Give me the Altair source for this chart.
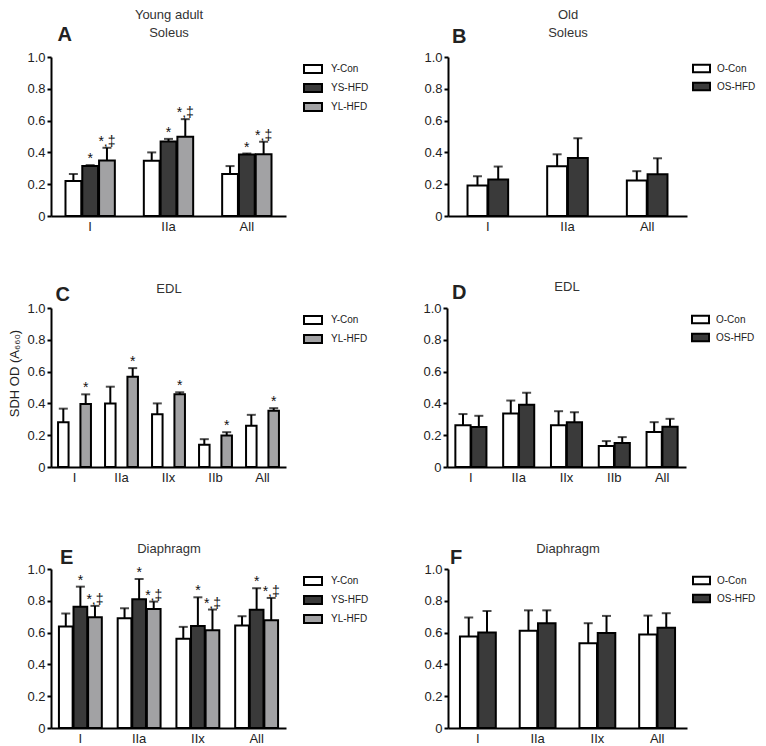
import altair as alt
import pandas as pd

FONT = "Liberation Sans"

# ---------------- data (mean and SD) ----------------
# Panel A  - Young adult, Soleus
A_types = ["I", "IIa", "All"]
A_ycon_mean = [0.220, 0.347, 0.264]
A_ycon_sd = [0.044, 0.053, 0.050]
A_yshfd_mean = [0.314, 0.469, 0.387]
A_yshfd_sd = [0.006, 0.016, 0.006]
A_ylhfd_mean = [0.349, 0.498, 0.389]
A_ylhfd_sd = [0.080, 0.111, 0.078]
A_yshfd_sig = ["*", "*", "*"]
A_ylhfd_sig = ["*,‡", "*,‡", "*,‡"]

# Panel B  - Old, Soleus
B_types = ["I", "IIa", "All"]
B_ocon_mean = [0.192, 0.313, 0.223]
B_ocon_sd = [0.058, 0.075, 0.059]
B_oshfd_mean = [0.230, 0.365, 0.263]
B_oshfd_sd = [0.081, 0.124, 0.100]

# Panel C  - Young adult, EDL
C_types = ["I", "IIa", "IIx", "IIb", "All"]
C_ycon_mean = [0.282, 0.400, 0.332, 0.140, 0.259]
C_ycon_sd = [0.085, 0.105, 0.068, 0.035, 0.069]
C_ylhfd_mean = [0.397, 0.568, 0.457, 0.198, 0.353]
C_ylhfd_sd = [0.060, 0.054, 0.013, 0.021, 0.017]
C_ylhfd_sig = ["*", "*", "*", "*", "*"]

# Panel D  - Old, EDL
D_types = ["I", "IIa", "IIx", "IIb", "All"]
D_ocon_mean = [0.262, 0.337, 0.262, 0.132, 0.220]
D_ocon_sd = [0.071, 0.081, 0.089, 0.031, 0.062]
D_oshfd_mean = [0.251, 0.391, 0.282, 0.151, 0.253]
D_oshfd_sd = [0.071, 0.076, 0.063, 0.037, 0.050]

# Panel E  - Young adult, Diaphragm
E_types = ["I", "IIa", "IIx", "All"]
E_ycon_mean = [0.638, 0.690, 0.561, 0.644]
E_ycon_sd = [0.082, 0.063, 0.075, 0.059]
E_yshfd_mean = [0.763, 0.810, 0.642, 0.743]
E_yshfd_sd = [0.126, 0.127, 0.180, 0.136]
E_ylhfd_mean = [0.697, 0.749, 0.615, 0.678]
E_ylhfd_sd = [0.071, 0.046, 0.130, 0.140]
E_yshfd_sig = ["*", "*", "*", "*"]
E_ylhfd_sig = ["*,‡", "*,‡", "*,‡", "*,‡"]

# Panel F  - Old, Diaphragm
F_types = ["I", "IIa", "IIx", "All"]
F_ocon_mean = [0.575, 0.611, 0.533, 0.588]
F_ocon_sd = [0.120, 0.129, 0.126, 0.119]
F_oshfd_mean = [0.600, 0.659, 0.598, 0.630]
F_oshfd_sd = [0.136, 0.081, 0.107, 0.092]

YOUNG_GROUPS = ["Y-Con", "YS-HFD", "YL-HFD"]
OLD_GROUPS = ["O-Con", "OS-HFD"]
COLORS = {"Y-Con": "#ffffff", "YS-HFD": "#3a3a3a", "YL-HFD": "#a2a2a4",
          "O-Con": "#ffffff", "OS-HFD": "#3a3a3a"}

Y_TITLE = "SDH OD (A₆₆₀)"
INK = "#222222"


def table(types, series):
    rows = []
    for group, means, sds, sigs in series:
        for i, t in enumerate(types):
            sig = sigs[i] if sigs else ""
            rows.append({"type": t, "group": group, "mean": means[i],
                         "top": means[i] + sds[i], "sig": sig})
    return pd.DataFrame(rows)


def top_text_axis(text, x, y, align, size, weight, color):
    return alt.Axis(orient="top", domain=False, ticks=False, labels=False,
                    grid=False, title=text, titleX=x, titleY=y,
                    titleAlign=align, titleBaseline="alphabetic", titleAngle=0,
                    titleFontSize=size, titleFontWeight=weight, titleColor=color)


def panel(df, types, slots, legend_groups, width, pad_inner, off_pad, ytitle,
          column_head, muscle, muscle_y, letter, letter_x, letter_y, right_side):
    xscale = alt.Scale(domain=types, paddingInner=pad_inner, paddingOuter=pad_inner / 2)

    def xenc(axis):
        return alt.X("type:N", sort=types, scale=xscale, axis=axis)

    bottom_axis = alt.Axis(title=None, labelAngle=0, ticks=False,
                           domainColor="black", domainWidth=2,
                           labelFontSize=13, labelColor=INK, labelPadding=4)
    # panel letter, muscle name and column heading sit on label-less top axes
    letter_axis = top_text_axis(letter, letter_x, letter_y, "left", 20, "bold", INK)
    muscle_axis = top_text_axis(muscle, width / 2, muscle_y, "center", 13, "normal",
                                "#333333")
    head_axis = (top_text_axis(column_head, width / 2, muscle_y - 18, "center", 13,
                               "normal", "#333333") if column_head else None)

    xo = alt.XOffset("group:N", scale=alt.Scale(domain=slots, paddingInner=off_pad))
    y_kw = dict(values=[0, 0.2, 0.4, 0.6, 0.8, 1.0],
                labelExpr="datum.value == 0 ? '0' : format(datum.value, '.1f')",
                grid=False, tickSize=4, tickWidth=2, tickColor="black",
                domainColor="black", domainWidth=2, labelFontSize=13,
                labelColor=INK, labelPadding=2, labelOverlap=False)
    if ytitle:
        y_axis = alt.Axis(title=ytitle, titleFontSize=13, titleFontWeight="normal",
                          titleColor=INK, titlePadding=5, titleY=65, **y_kw)
    else:
        y_axis = alt.Axis(title=None, **y_kw)
    yscale = alt.Scale(domain=[0, 1], nice=False)

    def yenc(field):
        return alt.Y(field, type="quantitative", scale=yscale, axis=y_axis)

    if right_side:
        lx, sym, loff = 244, 289, 6
    else:
        lx, sym, loff = 252, 324, 8

    base = alt.Chart(df).encode(xOffset=xo)
    bars = base.mark_bar(stroke="black", strokeWidth=2).encode(
        x=xenc(bottom_axis),
        y=yenc("mean"),
        fill=alt.Fill("group:N",
                      scale=alt.Scale(domain=legend_groups,
                                      range=[COLORS[g] for g in legend_groups]),
                      legend=alt.Legend(orient="none", legendX=lx, legendY=2,
                                        title=None, padding=0,
                                        symbolType="M-1,-0.45H1V0.45H-1Z",
                                        symbolSize=sym, symbolStrokeColor="black",
                                        symbolStrokeWidth=2, labelFontSize=10,
                                        labelColor=INK, labelOffset=loff,
                                        rowPadding=0)),
    )
    rules = base.mark_rule(color="black", strokeWidth=2).encode(
        x=xenc(letter_axis), y=yenc("mean"), y2="top:Q")
    caps = base.mark_tick(orient="horizontal", size=9, thickness=2,
                          color="black").encode(x=xenc(muscle_axis), y=yenc("top"))
    stars = base.transform_filter("datum.sig != ''").mark_text(
        fontSize=14, color="#111111", font=FONT, baseline="alphabetic",
        dy=-2).encode(x=xenc(head_axis), y=yenc("top"), text="sig:N")

    return alt.layer(rules, bars, caps, stars).resolve_axis(x="independent").properties(
        width=width, height=159)


dfA = table(A_types, [("Y-Con", A_ycon_mean, A_ycon_sd, None),
                      ("YS-HFD", A_yshfd_mean, A_yshfd_sd, A_yshfd_sig),
                      ("YL-HFD", A_ylhfd_mean, A_ylhfd_sd, A_ylhfd_sig)])
dfB = table(B_types, [("O-Con", B_ocon_mean, B_ocon_sd, None),
                      ("OS-HFD", B_oshfd_mean, B_oshfd_sd, None)])
dfC = table(C_types, [("Y-Con", C_ycon_mean, C_ycon_sd, None),
                      ("YL-HFD", C_ylhfd_mean, C_ylhfd_sd, C_ylhfd_sig)])
dfD = table(D_types, [("O-Con", D_ocon_mean, D_ocon_sd, None),
                      ("OS-HFD", D_oshfd_mean, D_oshfd_sd, None)])
dfE = table(E_types, [("Y-Con", E_ycon_mean, E_ycon_sd, None),
                      ("YS-HFD", E_yshfd_mean, E_yshfd_sd, E_yshfd_sig),
                      ("YL-HFD", E_ylhfd_mean, E_ylhfd_sd, E_ylhfd_sig)])
dfF = table(F_types, [("O-Con", F_ocon_mean, F_ocon_sd, None),
                      ("OS-HFD", F_oshfd_mean, F_oshfd_sd, None)])

pA = panel(dfA, A_types, YOUNG_GROUPS, YOUNG_GROUPS, 235, 0.37, 0.06, None,
           "Young adult", "Soleus", -21, "A", 6, -17, False)
pB = panel(dfB, B_types, OLD_GROUPS, OLD_GROUPS, 239, 0.49, 0.04, None,
           "Old", "Soleus", -21, "B", 3.5, -15, True)
pC = panel(dfC, C_types, YOUNG_GROUPS, ["Y-Con", "YL-HFD"], 235, 0.30, 0.06, Y_TITLE,
           None, "EDL", -16, "C", 4, -8, False)
pD = panel(dfD, D_types, OLD_GROUPS, OLD_GROUPS, 239, 0.35, 0.04, None,
           None, "EDL", -18, "D", 4.5, -10, True)
pE = panel(dfE, E_types, YOUNG_GROUPS, YOUNG_GROUPS, 235, 0.27, 0.06, None,
           None, "Diaphragm", -17, "E", 8.5, -6, False)
pF = panel(dfF, F_types, OLD_GROUPS, OLD_GROUPS, 239, 0.40, 0.04, None,
           None, "Diaphragm", -17, "F", 1.5, -6, True)

res = dict(fill="independent", xOffset="independent", x="independent", y="independent")
row1 = alt.hconcat(pA, pB, spacing=54).resolve_scale(**res)
row2 = alt.hconcat(pC, pD, spacing=54).resolve_scale(**res)
row3 = alt.hconcat(pE, pF, spacing=54).resolve_scale(**res)

top_rows = alt.vconcat(row1, row2, spacing=47).resolve_scale(**res)

chart = alt.vconcat(top_rows, row3, spacing=58).resolve_scale(**res).properties(
    padding={"left": 0, "top": 0, "right": 0, "bottom": 0}
).configure(font=FONT).configure_view(stroke=None)

chart.save("out.html", embed_options={"renderer": "svg", "actions": False})
